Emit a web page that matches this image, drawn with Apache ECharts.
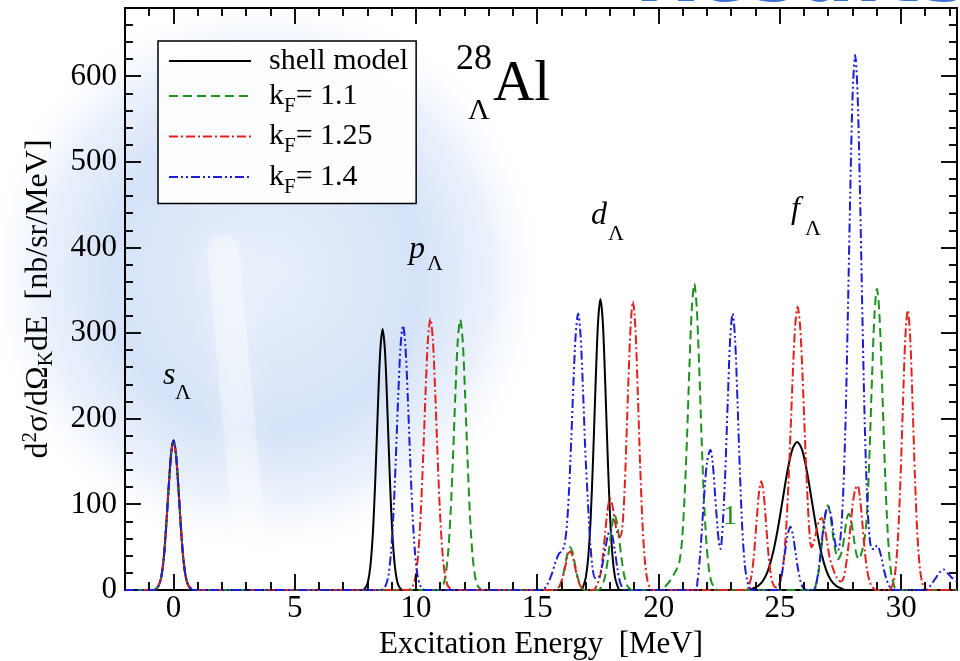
<!DOCTYPE html>
<html>
<head>
<meta charset="utf-8">
<script src="https://cdn.jsdelivr.net/npm/echarts@6/dist/echarts.min.js"></script>
<style>
html,body{margin:0;padding:0;background:#fff;}
#chart{width:960px;height:661px;}
#helper{width:960px;height:661px;position:absolute;left:-3000px;top:0;}
</style>
</head>
<body>
<div id="chart"></div>
<div id="helper"></div>
<script>
// ---- data: [Excitation Energy (MeV), d2sigma (nb/sr/MeV)] ----
const shellModel = [
 [-2,0],[-0.8,0],[-0.7,2],[-0.6,6],[-0.5,16],[-0.4,38],[-0.3,75],[-0.2,120],[-0.1,159],[0,175],[0.1,159],[0.2,120],[0.3,75],[0.4,38],[0.5,16],[0.6,6],[0.7,2],[0.8,0],
 [7.8,0],[7.92,3],[8.02,10],[8.12,29],[8.22,67],[8.32,130],[8.42,209],[8.52,278],[8.62,305],[8.72,278],[8.82,209],[8.92,130],[9.02,67],[9.12,29],[9.22,10],[9.32,3],[9.45,0],
 [16.8,0],[16.9,5],[17.0,15],[17.1,39],[17.2,85],[17.3,156],[17.4,240],[17.5,312],[17.6,340],[17.7,312],[17.8,240],[17.9,156],[18.0,85],[18.1,39],[18.2,15],[18.3,5],[18.4,0],
 [23.7,0],[23.91,2],[24.11,5],[24.31,11],[24.51,23],[24.71,43],[24.91,71],[25.11,105],[25.31,139],[25.51,164],[25.71,173],[25.91,164],[26.11,139],[26.31,105],[26.51,71],[26.71,43],[26.91,23],[27.11,11],[27.31,5],[27.51,2],[27.71,0],[32.3,0]
];
const kF11 = [
 [-2,0],[-0.8,0],[-0.7,2],[-0.6,6],[-0.5,16],[-0.4,38],[-0.3,75],[-0.2,120],[-0.1,159],[0,175],[0.1,159],[0.2,120],[0.3,75],[0.4,38],[0.5,16],[0.6,6],[0.7,2],[0.8,0],
 [10.92,0],[11.02,2],[11.12,6],[11.22,18],[11.32,43],[11.42,88],[11.52,154],[11.62,229],[11.72,292],[11.82,316],[11.92,292],[12.02,229],[12.12,154],[12.22,88],[12.32,43],[12.42,18],[12.52,6],[12.62,2],[12.72,0],
 [15.75,0],[15.85,2],[15.95,7],[16.05,16],[16.15,30],[16.25,44],[16.35,50],[16.45,44],[16.55,30],[16.65,16],[16.75,7],[16.85,2],[16.95,0],
 [17.5,0],[17.6,2],[17.7,7],[17.8,17],[17.9,35],[18.0,58],[18.1,79],[18.18,88],[18.28,79],[18.38,58],[18.48,35],[18.58,17],[18.68,7],[18.78,2],[18.9,0],
 [20.1,0],[20.3,5],[20.5,12],[20.7,22],[20.85,32],[20.97,60],[21.07,110],[21.17,178],[21.27,262],[21.37,330],[21.47,358],[21.57,330],[21.67,262],[21.77,178],[21.87,105],[21.97,55],[22.07,25],[22.17,10],[22.3,3],[22.45,0],
 [26.35,0],[26.5,8],[26.6,22],[26.7,45],[26.8,72],[26.9,93],[26.97,99],[27.05,92],[27.15,72],[27.25,52],[27.4,36],[27.55,45],[27.65,62],[27.75,82],[27.84,89],[27.93,82],[28.05,60],[28.15,42],[28.25,36],[28.35,42],[28.5,62],[28.6,95],[28.7,165],[28.8,251],[28.9,323],[29.0,352],[29.1,323],[29.2,251],[29.3,165],[29.4,92],[29.5,43],[29.6,17],[29.7,6],[29.8,0],[32.3,0]
];
const kF125 = [
 [-2,0],[-0.8,0],[-0.7,2],[-0.6,6],[-0.5,16],[-0.4,38],[-0.3,75],[-0.2,120],[-0.1,159],[0,175],[0.1,159],[0.2,120],[0.3,75],[0.4,38],[0.5,16],[0.6,6],[0.7,2],[0.8,0],
 [9.69,0],[9.79,2],[9.89,6],[9.99,18],[10.09,43],[10.19,88],[10.29,154],[10.39,230],[10.49,293],[10.59,317],[10.69,293],[10.79,230],[10.89,154],[10.99,88],[11.09,43],[11.19,18],[11.29,6],[11.39,2],[11.49,0],
 [15.75,0],[15.85,2],[15.95,6],[16.05,15],[16.15,27],[16.25,40],[16.35,45],[16.45,40],[16.55,27],[16.65,15],[16.75,6],[16.85,2],[16.95,0],
 [17.3,0],[17.45,5],[17.6,18],[17.7,40],[17.8,68],[17.9,95],[18.0,107],[18.1,98],[18.2,80],[18.3,66],[18.4,62],[18.5,72],[18.6,120],[18.7,200],[18.8,280],[18.87,320],[18.94,337],[19.04,307],[19.14,231],[19.24,144],[19.34,74],[19.44,32],[19.54,11],[19.64,3],[19.75,0],
 [23.6,0],[23.73,6],[23.83,17],[23.93,41],[24.03,77],[24.13,112],[24.23,127],[24.33,112],[24.43,77],[24.53,41],[24.63,17],[24.73,6],[24.85,3],[24.95,6],[25.03,12],[25.13,28],[25.23,60],[25.33,111],[25.43,179],[25.53,252],[25.63,309],[25.73,331],[25.83,309],[25.93,252],[26.03,179],[26.13,112],[26.23,62],[26.3,50],[26.4,56],[26.5,68],[26.6,80],[26.72,84],[26.85,72],[26.95,55],[27.05,38],[27.2,24],[27.35,14],[27.5,10],[27.6,12],[27.7,25],[27.8,45],[27.9,72],[28.0,100],[28.1,117],[28.2,122],[28.3,108],[28.4,78],[28.5,45],[28.6,22],[28.7,10],[28.8,4],[28.95,0],
 [29.5,0],[29.57,2],[29.67,8],[29.77,25],[29.87,63],[29.97,129],[30.07,216],[30.17,295],[30.27,327],[30.37,295],[30.47,216],[30.57,129],[30.67,63],[30.77,25],[30.87,8],[30.97,2],[31.05,0],[32.3,0]
];
const kF14 = [
 [-2,0],[-0.8,0],[-0.7,2],[-0.6,6],[-0.5,16],[-0.4,38],[-0.3,75],[-0.2,120],[-0.1,159],[0,175],[0.1,159],[0.2,120],[0.3,75],[0.4,38],[0.5,16],[0.6,6],[0.7,2],[0.8,0],
 [8.56,0],[8.66,2],[8.76,6],[8.86,17],[8.96,42],[9.06,86],[9.16,150],[9.26,224],[9.36,285],[9.46,309],[9.56,285],[9.66,224],[9.76,150],[9.86,86],[9.96,42],[10.06,17],[10.16,6],[10.26,2],[10.36,0],
 [15.2,0],[15.4,6],[15.6,19],[15.75,33],[15.9,43],[16.0,45],[16.1,51],[16.2,70],[16.3,113],[16.4,178],[16.5,251],[16.58,298],[16.68,323],[16.78,298],[16.88,235],[16.98,160],[17.08,105],[17.18,55],[17.28,25],[17.38,14],[17.5,14],[17.6,20],[17.7,32],[17.8,48],[17.9,63],[18.0,70],[18.1,62],[18.2,45],[18.3,25],[18.4,10],[18.5,3],[18.6,0],
 [21.5,0],[21.6,10],[21.7,38],[21.8,78],[21.9,120],[22.0,150],[22.13,164],[22.23,148],[22.33,110],[22.43,72],[22.5,52],[22.55,48],[22.65,80],[22.75,140],[22.85,221],[22.95,294],[23.05,323],[23.15,294],[23.25,221],[23.35,138],[23.45,71],[23.55,30],[23.65,11],[23.75,3],[23.85,0],
 [24.9,0],[25.0,8],[25.1,22],[25.2,42],[25.3,62],[25.43,74],[25.55,62],[25.65,42],[25.75,24],[25.85,10],[25.95,3],[26.1,0],
 [26.4,0],[26.5,8],[26.6,25],[26.7,50],[26.8,75],[26.9,92],[27.0,97],[27.1,88],[27.2,68],[27.3,52],[27.4,47],[27.5,62],[27.6,108],[27.7,191],[27.8,321],[27.9,465],[28.0,581],[28.1,625],[28.2,581],[28.3,465],[28.4,321],[28.5,191],[28.6,105],[28.7,60],[28.8,48],[28.9,48],[29.0,52],[29.1,47],[29.2,36],[29.3,22],[29.4,12],[29.5,5],[29.6,1],[29.7,0],
 [31.0,0],[31.2,5],[31.4,13],[31.6,21],[31.75,24],[31.9,20],[32.1,14],[32.3,10]
];
const seriesNames = ['shell model', 'kF= 1.1', 'kF= 1.25', 'kF= 1.4'];
const xTickLabels = [0, 5, 10, 15, 20, 25, 30];
const yTickLabels = [0, 100, 200, 300, 400, 500, 600];

const X_MIN = -2, X_MAX = 32.3, Y_MIN = 0, Y_MAX = 680;

// ---- styling ----
const SERIF = 'Liberation Serif';
const colors = ['#000000', '#1f8f1f', '#e3211c', '#1c1cd6'];
const dashes = ['solid', [9, 5], [9, 3, 2, 3], [9, 3, 2, 3, 2, 3]];
const seriesData = [shellModel, kF11, kF125, kF14];

const series = seriesNames.map((name, i) => ({
  name: name, type: 'line', xAxisIndex: 0, yAxisIndex: 0,
  data: seriesData[i], symbol: 'none', showSymbol: false, smooth: 0.3, clip: true,
  lineStyle: {color: colors[i], width: 2, type: dashes[i]},
  itemStyle: {color: colors[i]},
  z: 3 + i
}));

function annot(text, x, y, size, fill) {
  return {type: 'text', x: x, y: y, silent: true, z: 20,
    style: {text: text, fill: fill || '#000', font: size + 'px "' + SERIF + '"', verticalAlign: 'middle', align: 'left'}};
}
function italic(text, x, y, size) {
  return {type: 'text', x: x, y: y, silent: true, z: 20,
    style: {text: text, fill: '#000', font: 'italic ' + size + 'px "' + SERIF + '"', verticalAlign: 'middle', align: 'left'}};
}

const baseGraphics = [
    {type: 'circle', silent: true, z: -10, shape: {cx: 265, cy: 275, r: 285},
     style: {fill: {type: 'radial', x: 0.5, y: 0.5, r: 0.5, colorStops: [
       {offset: 0, color: 'rgba(214,228,248,0.55)'},
       {offset: 0.55, color: 'rgba(188,208,243,0.62)'},
       {offset: 0.8, color: 'rgba(200,218,246,0.35)'},
       {offset: 1, color: 'rgba(255,255,255,0)'}]}}},
    {type: 'rect', silent: true, z: -9, x: 222, y: 235, originX: 0, originY: 0, rotation: 0.09,
     shape: {x: -16, y: 0, width: 32, height: 370, r: 16},
     style: {fill: 'rgba(255,255,255,0.32)', shadowBlur: 25, shadowColor: 'rgba(255,255,255,0.9)'}},
    {type: 'text', silent: true, z: -5, x: 968, y: -20,
     style: {text: 'Results', fill: '#3c6fd2', font: 'bold 80px "DejaVu Sans"', align: 'right', verticalAlign: 'middle'}},
    annot('28', 456, 60, 36),
    annot('Λ', 468, 111, 30),
    annot('Al', 493, 85, 57),
    italic('s', 163, 376, 32), annot('Λ', 175, 393, 22),
    italic('p', 409, 250, 32), annot('Λ', 427, 264, 22),
    italic('d', 591, 216, 32), annot('Λ', 608, 234, 22),
    italic('f', 791, 210, 32), annot('Λ', 805, 229, 22),
    annot('1', 723, 517, 28, '#1f8f1f')
];

const option = {
  animation: false,
  backgroundColor: '#ffffff',
  grid: {left: 125, right: 3, top: 8, bottom: 71, containLabel: false, outerBoundsMode: 'none',
         show: true, borderColor: '#000000', borderWidth: 2, backgroundColor: 'transparent'},
  xAxis: {
    type: 'value', min: X_MIN, max: X_MAX, interval: 1,
    axisLine: {show: true, onZero: false, lineStyle: {color: '#000000', width: 2}},
    axisTick: {show: false},
    axisLabel: {show: true, customValues: xTickLabels, margin: 3, color: '#000', fontFamily: SERIF, fontSize: 31},
    splitLine: {show: false},
    name: 'Excitation Energy  [MeV]', nameLocation: 'middle', nameGap: 35,
    nameTextStyle: {fontFamily: SERIF, fontSize: 31, color: '#000'}
  },
  yAxis: {
    type: 'value', min: Y_MIN, max: Y_MAX, interval: 20,
    axisLine: {show: true, onZero: false, lineStyle: {color: '#000000', width: 2}},
    axisTick: {show: false},
    axisLabel: {show: true, customValues: yTickLabels, margin: 8, color: '#000', fontFamily: SERIF, fontSize: 31},
    splitLine: {show: false},
    name: '{n|d}{sup|2}{n|σ/dΩ}{sub|K}{n|dE  [nb/sr/MeV]}', nameLocation: 'middle', nameRotate: 90, nameGap: 68,
    nameTextStyle: {
      fontFamily: SERIF, fontSize: 32, color: '#000',
      rich: {
        n: {fontFamily: SERIF, fontSize: 32, color: '#000'},
        sup: {fontFamily: SERIF, fontSize: 21, color: '#000', padding: [0, 0, 16, 0]},
        sub: {fontFamily: SERIF, fontSize: 21, color: '#000', padding: [16, 0, 0, 0]}
      }
    }
  },
  legend: {
    left: 158, top: 41, orient: 'vertical',
    itemWidth: 82, itemHeight: 14, itemGap: 5,
    padding: [5, 8, 6, 10],
    borderColor: '#000000', borderWidth: 1.5,
    backgroundColor: 'rgba(255,255,255,0.92)',
    data: seriesNames,
    itemStyle: {opacity: 0},
    formatter: function (name) {
      if (name === 'shell model') return '{t|shell model}';
      return '{t|k}{sub|F}{t|' + name.slice(2) + '}';
    },
    textStyle: {
      fontFamily: SERIF, fontSize: 30, color: '#000', padding: [0, 0, 0, 13],
      rich: {
        t: {fontFamily: SERIF, fontSize: 30, color: '#000'},
        sub: {fontFamily: SERIF, fontSize: 21, color: '#000', padding: [20, 0, 0, 0]}
      }
    }
  },
  series: series
};

// an off-screen copy of the same chart provides the axis scales used to place the tick marks
const helper = echarts.init(document.getElementById('helper'), null, {renderer: 'canvas'});
helper.setOption(option);
const tickGraphics = [];
for (let v = -1; v <= 32; v++) {
  const len = (v % 5 === 0) ? 16 : 8;
  const b = helper.convertToPixel({gridIndex: 0}, [v, Y_MIN]);
  const t = helper.convertToPixel({gridIndex: 0}, [v, Y_MAX]);
  tickGraphics.push({type: 'rect', silent: true, z: 40, shape: {x: Math.round(b[0]) - 1, y: Math.round(b[1]) - len, width: 2, height: len}, style: {fill: '#111111'}});
  tickGraphics.push({type: 'rect', silent: true, z: 40, shape: {x: Math.round(t[0]) - 1, y: Math.round(t[1]), width: 2, height: len}, style: {fill: '#111111'}});
}
for (let v = 20; v < Y_MAX; v += 20) {
  const len = (v % 100 === 0) ? 16 : 8;
  const l = helper.convertToPixel({gridIndex: 0}, [X_MIN, v]);
  const r = helper.convertToPixel({gridIndex: 0}, [X_MAX, v]);
  tickGraphics.push({type: 'rect', silent: true, z: 40, shape: {x: Math.round(l[0]), y: Math.round(l[1]) - 1, width: len, height: 2}, style: {fill: '#111111'}});
  tickGraphics.push({type: 'rect', silent: true, z: 40, shape: {x: Math.round(r[0]) - len, y: Math.round(r[1]) - 1, width: len, height: 2}, style: {fill: '#111111'}});
}
helper.dispose();

option.graphic = baseGraphics.concat(tickGraphics);
const chart = echarts.init(document.getElementById('chart'), null, {renderer: 'canvas'});
chart.setOption(option);
</script>
</body>
</html>
